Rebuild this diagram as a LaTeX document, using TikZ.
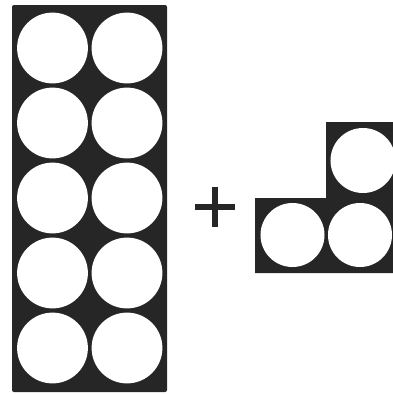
\documentclass[tikz,border=0pt]{standalone}
\usepackage{tikz}
\definecolor{tray}{RGB}{38,38,38}

\begin{document}
\begin{tikzpicture}[x=0.25mm,y=-0.25mm,
  hole/.style={circle,fill=white,inner sep=0pt,minimum size=17.7mm},
  small/.style={hole,minimum size=16mm}]
  \useasboundingbox (0,0) rectangle (393,394);
  \clip (0,0) rectangle (393,394);
  % ten frame
  \fill[tray,rounded corners=0.5mm] (12,5) rectangle (167,392);
  \foreach \r in {0,...,4} {
    \node[hole] (a\r) at (52.5,48+75*\r) {};
    \node[hole] (b\r) at (127,48+75*\r) {};
  }
  % plus
  \draw[tray,line width=1.6mm] (195,207)--(235,207) (215,187)--(215,227);
  % the three extra
  \fill[tray] (326,122) -- (398,122) -- (398,273) -- (255,273) -- (255,198) -- (326,198) -- cycle;
  \node[small] (c1) at (292.5,235) {};
  \node[small] (c2) at (360,235) {};
  \node[small,minimum size=16.25mm] (c3) at (363,160.5) {};
\end{tikzpicture}
\end{document}
